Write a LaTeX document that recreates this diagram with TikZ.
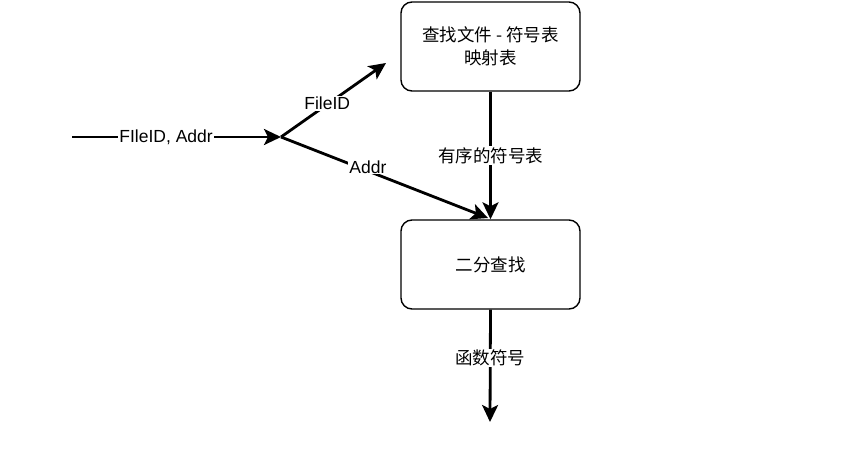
\documentclass[tikz,border=0pt]{standalone}
\usepackage{fontspec}
\setmainfont{Liberation Sans}
\newfontfamily\cjk{Noto Sans CJK SC}
\usetikzlibrary{arrows.meta}
\begin{document}
\begin{tikzpicture}[x=1pt,y=-1pt,
  box/.style={draw,line width=1.4pt,rounded corners=11pt,minimum width=179pt,minimum height=89pt,align=center,font=\cjk\fontsize{17.5}{23}\selectfont},
  conn/.style={line width=2.8pt,-{Stealth[length=17pt,width=16pt,inset=4pt]}},
  lbl/.style={fill=white,inner sep=1pt,font=\fontsize{17.5}{20}\selectfont},
  clbl/.style={fill=white,inner sep=1pt,font=\cjk\fontsize{17.5}{20}\selectfont}]
\useasboundingbox (0,0) rectangle (847,455);
\node[box] (map) at (490.5,46.5) {查找文件 - 符号表\\映射表};
\node[box] (bs) at (490.5,264.5) {二分查找};
\coordinate (start) at (72,137);
\coordinate (junc) at (281,137);
\coordinate (up) at (386,63);
\coordinate (tgt) at (488,218);
\coordinate (out) at (490,422);
\draw[conn] (start) -- node[lbl,pos=0.45]{FIleID, Addr} (junc);
\draw[conn] (junc) -- node[lbl,pos=0.44,yshift=1pt]{FileID} (up);
\draw[conn] (junc) -- node[lbl,pos=0.42,yshift=4pt]{Addr} (tgt);
\draw[conn] (map.south) -- node[clbl,pos=0.5]{有序的符号表} (bs.north);
\draw[conn] (bs.south) -- node[clbl,pos=0.43]{函数符号} (out);
\end{tikzpicture}
\end{document}
